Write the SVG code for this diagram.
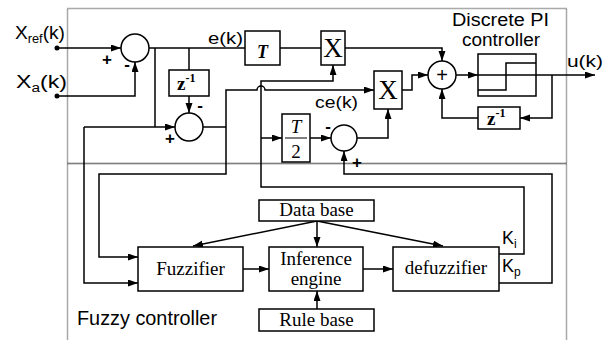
<svg xmlns="http://www.w3.org/2000/svg" width="611" height="340" viewBox="0 0 611 340">
<style>
.ln{fill:none;stroke:#000;stroke-width:1.5}
.bx{fill:#fff;stroke:#000;stroke-width:1.5}
.frame{fill:none;stroke:#555;stroke-width:1.5;stroke-dasharray:1,1}
.sans{font-family:"Liberation Sans",Arial,sans-serif;fill:#000}
.ser{font-family:"Liberation Serif","Times New Roman",serif;fill:#000}
</style>
<defs>
<marker id="ar" markerUnits="userSpaceOnUse" markerWidth="11" markerHeight="8" refX="10" refY="3.5" orient="auto">
<path d="M0,0 L10,3.5 L0,7 z" fill="#000"/>
</marker>
</defs>
<rect width="611" height="340" fill="#fff"/>
<g id="frames">
<rect class="frame" x="67.5" y="8.5" width="499" height="155"/>
<rect class="frame" x="67.5" y="163.5" width="499" height="190"/>
</g>
<g id="connectors">
<path class="ln" d="M59,48 H121" marker-end="url(#ar)"/>
<path class="ln" d="M59,96 H135 V62" marker-end="url(#ar)"/>
<path class="ln" d="M149,48 H245"/>
<path class="ln" d="M280,48 H321"/>
<path class="ln" d="M345,48 H442 V61" marker-end="url(#ar)"/>
<path class="ln" d="M155,48 V127"/>
<path class="ln" d="M189,48 V70"/>
<path class="ln" d="M189,96 V113" marker-end="url(#ar)"/>
<path class="ln" d="M84,127 H175" marker-end="url(#ar)"/>
<path class="ln" d="M84,127 V283 H138" marker-end="url(#ar)"/>
<path class="ln" d="M203,127 H226"/>
<path class="ln" d="M226,127 V90 H257 A4,4 0 0 1 265,90 H374" marker-end="url(#ar)"/>
<path class="ln" d="M226,127 V174 H99 V257 H138" marker-end="url(#ar)"/>
<path class="ln" d="M499,254 H524 V187 H261 V81 H333 V65" marker-end="url(#ar)"/>
<path class="ln" d="M261,138 H282" marker-end="url(#ar)"/>
<path class="ln" d="M310,138 H331" marker-end="url(#ar)"/>
<path class="ln" d="M357,138 H388 V109" marker-end="url(#ar)"/>
<path class="ln" d="M499,283 H552 V174 H344 V151" marker-end="url(#ar)"/>
<path class="ln" d="M402,90 H412 V75 H428" marker-end="url(#ar)"/>
<path class="ln" d="M456,75 H478" marker-end="url(#ar)"/>
<path class="ln" d="M478,75 H595" marker-end="url(#ar)"/>
<path class="ln" d="M552,75 V118 H520" marker-end="url(#ar)"/>
<path class="ln" d="M478,118 H442 V89" marker-end="url(#ar)"/>
<path class="ln" d="M317,221 V247" marker-end="url(#ar)"/>
<path class="ln" d="M317,221 L193,246" marker-end="url(#ar)"/>
<path class="ln" d="M317,221 L443,246" marker-end="url(#ar)"/>
<path class="ln" d="M243,269 H269" marker-end="url(#ar)"/>
<path class="ln" d="M363,269 H393" marker-end="url(#ar)"/>
<path class="ln" d="M317,309 V291" marker-end="url(#ar)"/>
</g>
<g id="inputs">
<circle cx="57" cy="48" r="2.5" fill="#000"/>
<circle cx="57" cy="96" r="2.5" fill="#000"/>
<text class="sans" x="15" y="39" font-size="18" textLength="50" lengthAdjust="spacingAndGlyphs">X<tspan font-size="12" dy="4">ref</tspan><tspan dy="-4">(k)</tspan></text>
<text class="sans" x="16" y="88" font-size="18" textLength="51" lengthAdjust="spacingAndGlyphs">X<tspan font-size="12" dy="4">a</tspan><tspan dy="-4">(k)</tspan></text>
</g>
<g id="sum1">
<circle class="bx" cx="135" cy="48" r="14"/>
<text class="sans" x="107" y="65" font-size="17" font-weight="bold" text-anchor="middle">+</text>
<text class="sans" x="127" y="70" font-size="17" font-weight="bold" text-anchor="middle">-</text>
</g>
<g id="ek-label"><text class="sans" x="208" y="44" font-size="17" textLength="35" lengthAdjust="spacingAndGlyphs">e(k)</text></g>
<g id="zdelay1">
<rect class="bx" x="169" y="70" width="40" height="26"/>
<text class="ser" x="177" y="90" font-size="19" font-weight="bold">z<tspan font-size="12" dy="-8">-1</tspan></text>
</g>
<g id="sum2">
<circle class="bx" cx="189" cy="127" r="14"/>
<text class="sans" x="200" y="111" font-size="17" font-weight="bold" text-anchor="middle">-</text>
<text class="sans" x="170" y="144" font-size="17" font-weight="bold" text-anchor="middle">+</text>
</g>
<g id="Tgain">
<rect class="bx" x="245" y="31" width="35" height="34"/>
<text class="ser" x="262.5" y="58" font-size="18" font-weight="bold" font-style="italic" text-anchor="middle">T</text>
</g>
<g id="mult1">
<rect class="bx" x="321" y="31" width="24" height="34"/>
<text class="ser" x="333" y="57" font-size="27" text-anchor="middle">X</text>
</g>
<g id="Thalf">
<rect class="bx" x="282" y="114" width="28" height="48"/>
<text class="ser" x="296" y="133" font-size="19" font-style="italic" text-anchor="middle">T</text>
<line x1="285" y1="138" x2="307" y2="138" stroke="#000" stroke-width="1"/>
<text class="ser" x="296" y="158" font-size="19" text-anchor="middle">2</text>
</g>
<g id="sum3">
<circle class="bx" cx="344" cy="138" r="13"/>
<text class="sans" x="328" y="132" font-size="17" font-weight="bold" text-anchor="middle">-</text>
<text class="sans" x="357" y="168" font-size="17" font-weight="bold" text-anchor="middle">+</text>
</g>
<g id="cek-label"><text class="sans" x="315" y="108" font-size="17" textLength="43" lengthAdjust="spacingAndGlyphs">ce(k)</text></g>
<g id="mult2">
<rect class="bx" x="374" y="71" width="28" height="38"/>
<text class="ser" x="388" y="99" font-size="27" text-anchor="middle">X</text>
</g>
<g id="sumPI">
<circle class="bx" cx="442" cy="75" r="14"/>
<text class="sans" x="442" y="82" font-size="20" text-anchor="middle">+</text>
</g>
<g id="PIblock">
<rect class="ln" x="478" y="54" width="58" height="42"/>
<path class="ln" d="M478,90 H506 V63 H536"/>
</g>
<g id="zdelay2">
<rect class="bx" x="478" y="107" width="42" height="22"/>
<text class="ser" x="487" y="125" font-size="19" font-weight="bold">z<tspan font-size="12" dy="-8">-1</tspan></text>
</g>
<g id="pi-label">
<text class="sans" x="452" y="26" font-size="18" textLength="97" lengthAdjust="spacingAndGlyphs">Discrete PI</text>
<text class="sans" x="462" y="46" font-size="18" textLength="78" lengthAdjust="spacingAndGlyphs">controller</text>
</g>
<g id="uk-label"><text class="sans" x="567" y="67" font-size="17" textLength="36" lengthAdjust="spacingAndGlyphs">u(k)</text></g>
<g id="database">
<rect class="bx" x="259" y="200" width="115" height="21"/>
<text class="ser" x="316.5" y="216" font-size="19" text-anchor="middle">Data base</text>
</g>
<g id="fuzzifier">
<rect class="bx" x="138" y="247" width="105" height="44"/>
<text class="ser" x="190.5" y="275" font-size="19" text-anchor="middle">Fuzzifier</text>
</g>
<g id="inference">
<rect class="bx" x="269" y="247" width="94" height="44"/>
<text class="ser" x="316" y="265" font-size="19" text-anchor="middle">Inference</text>
<text class="ser" x="316" y="285" font-size="19" text-anchor="middle">engine</text>
</g>
<g id="defuzzifier">
<rect class="bx" x="393" y="247" width="106" height="44"/>
<text class="ser" x="446" y="274" font-size="19" text-anchor="middle">defuzzifier</text>
</g>
<g id="rulebase">
<rect class="bx" x="259" y="309" width="115" height="22"/>
<text class="ser" x="316.5" y="326" font-size="19" text-anchor="middle">Rule base</text>
</g>
<g id="gains">
<text class="sans" x="502" y="244" font-size="18">K<tspan font-size="12" dy="4">i</tspan></text>
<text class="sans" x="502" y="272" font-size="18">K<tspan font-size="12" dy="4">p</tspan></text>
</g>
<g id="fuzzy-label"><text class="sans" x="77" y="325" font-size="20" textLength="140" lengthAdjust="spacingAndGlyphs">Fuzzy controller</text></g>
</svg>
